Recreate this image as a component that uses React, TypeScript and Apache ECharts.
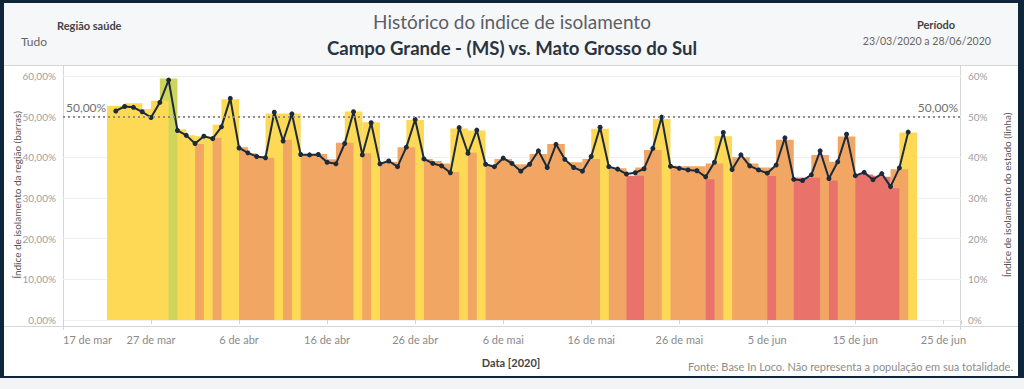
import React, { useEffect, useRef } from "react";
import * as echarts from "echarts";

// ---- data ----
const axisStartDate = "17/03";
const axisEndDate = "27/06";

const dates = [
  "23/03", "24/03", "25/03", "26/03", "27/03", "28/03", "29/03", "30/03", "31/03",
  "01/04", "02/04", "03/04", "04/04", "05/04", "06/04", "07/04", "08/04", "09/04", "10/04",
  "11/04", "12/04", "13/04", "14/04", "15/04", "16/04", "17/04", "18/04", "19/04", "20/04",
  "21/04", "22/04", "23/04", "24/04", "25/04", "26/04", "27/04", "28/04", "29/04", "30/04",
  "01/05", "02/05", "03/05", "04/05", "05/05", "06/05", "07/05", "08/05", "09/05", "10/05",
  "11/05", "12/05", "13/05", "14/05", "15/05", "16/05", "17/05", "18/05", "19/05", "20/05",
  "21/05", "22/05", "23/05", "24/05", "25/05", "26/05", "27/05", "28/05", "29/05", "30/05",
  "31/05", "01/06", "02/06", "03/06", "04/06", "05/06", "06/06", "07/06", "08/06", "09/06",
  "10/06", "11/06", "12/06", "13/06", "14/06", "15/06", "16/06", "17/06", "18/06", "19/06",
  "20/06", "21/06",
];

// Campo Grande (região) - barras
const regionValues = [
  52.6, 52.3, 53.3, 51.8, 51.8, 53.9, 59.4, 46.9, 45.4, 43.3,
  45.2, 44.8, 48.0, 54.3, 42.5, 41.0, 40.2, 39.9, 50.8, 44.3,
  50.8, 40.8, 40.6, 40.8, 39.5, 39.3, 43.6, 51.3, 41.0, 48.6,
  38.6, 38.9, 37.8, 42.5, 49.2, 39.6, 39.1, 38.5, 36.4, 47.1,
  41.1, 46.6, 38.1, 37.8, 39.6, 38.3, 37.5, 38.3, 40.8, 39.0,
  43.3, 38.5, 38.8, 37.5, 39.6, 47.0, 37.0, 37.3, 35.0, 35.5,
  37.5, 41.8, 49.4, 37.9, 37.8, 37.7, 37.8, 34.6, 38.5, 45.2,
  37.5, 40.0, 38.5, 37.5, 35.4, 37.5, 44.3, 35.0, 35.0, 35.0,
  40.6, 34.3, 38.9, 45.1, 35.8, 35.8, 35.5, 35.2, 32.4, 37.1,
  46.1,
];

// nível de cada barra: G verde, Y amarelo, O laranja, R vermelho
const regionLevels = [
  "Y", "Y", "Y", "Y", "Y", "Y", "G", "Y", "Y", "O",
  "Y", "O", "Y", "Y", "O", "O", "O", "O", "Y", "O",
  "Y", "O", "O", "O", "O", "O", "O", "Y", "O", "Y",
  "O", "O", "O", "O", "Y", "O", "O", "O", "O", "Y",
  "O", "Y", "O", "O", "O", "O", "O", "O", "O", "O",
  "O", "O", "O", "O", "O", "Y", "O", "O", "R", "R",
  "O", "O", "Y", "O", "O", "O", "O", "R", "O", "Y",
  "O", "O", "O", "O", "R", "O", "O", "R", "R", "R",
  "O", "R", "O", "O", "R", "R", "R", "R", "R", "O",
  "Y",
];

// Mato Grosso do Sul (estado) - linha
const stateValues = [
  51.4, 52.5, 52.3, 51.2, 49.8, 53.5, 59.0, 46.6, 45.4, 43.4,
  45.2, 44.6, 47.5, 54.5, 42.3, 41.1, 40.2, 39.9, 51.1, 44.0,
  50.7, 40.7, 40.6, 40.7, 38.8, 38.4, 43.4, 51.2, 40.6, 48.5,
  38.4, 39.1, 37.7, 42.5, 49.3, 39.6, 38.5, 37.9, 36.2, 47.3,
  41.0, 46.7, 38.3, 37.7, 39.8, 38.5, 36.6, 38.3, 41.6, 37.5,
  43.2, 39.5, 37.5, 36.6, 40.2, 47.4, 37.7, 37.1, 35.9, 36.2,
  37.2, 42.2, 49.9, 37.8, 37.3, 36.9, 36.7, 35.2, 38.8, 46.1,
  37.0, 40.6, 37.9, 36.9, 36.1, 38.1, 44.8, 34.6, 34.3, 35.7,
  41.6, 34.8, 38.9, 45.7, 35.5, 36.3, 34.5, 36.0, 32.8, 37.4,
  46.2,
];

const referenceValue = 50;
const referenceLabel = "50,00%";

const xTickLabels = [
  "17 de mar", "27 de mar", "6 de abr", "16 de abr", "26 de abr", "6 de mai",
  "16 de mai", "26 de mai", "5 de jun", "15 de jun", "25 de jun",
];
const yLeftTickLabels = ["0,00%", "10,00%", "20,00%", "30,00%", "40,00%", "50,00%", "60,00%"];
const yRightTickLabels = ["0%", "10%", "20%", "30%", "40%", "50%", "60%"];

// ---- styles ----
const levelColors: Record<string, string> = {
  G: "#CFD55B",
  Y: "#FED955",
  O: "#F2A664",
  R: "#E9736B",
};
const FONT = 'Lato, "Noto Sans", sans-serif';
const NAVY = "#0f2539";
const LINE_COLOR = "#1c2b3b";

const dayOf = (s: string) => {
  const [d, m] = s.split("/").map(Number);
  return (Date.UTC(2020, m - 1, d) - Date.UTC(2020, 2, 17)) / 86400000;
};

export default function App() {
  const ref = useRef<HTMLDivElement>(null);

  useEffect(() => {
    if (!ref.current) return;
    const chart = echarts.init(ref.current, undefined, { renderer: "svg" });

    const xMin = dayOf(axisStartDate);
    const xMax = dayOf(axisEndDate);
    const n = regionValues.length;

    const barData = dates.map((d, i) => ({
      value: [dayOf(d), regionValues[i]],
      itemStyle: { color: levelColors[regionLevels[i]] },
    }));
    const lineData = dates.map((d, i) => [dayOf(d), stateValues[i]]);

    const option: any = {
      animation: false,
      backgroundColor: "transparent",
      textStyle: { fontFamily: FONT },
      grid: { left: 63, right: 63, top: 76, bottom: 69, containLabel: false },
      xAxis: {
        type: "value",
        min: xMin,
        max: xMax,
        interval: 10,
        offset: 6,
        axisLine: { show: false },
        axisTick: { show: true, length: 4, lineStyle: { color: "#d0d0d0" } },
        splitLine: { show: false },
        axisLabel: {
          margin: 8,
          color: "#8a8a8a",
          fontSize: 11,
          fontFamily: FONT,
          alignMinLabel: "left",
          formatter: (v: number) => {
            const k = (v - xMin) / 10;
            return Number.isInteger(k) && xTickLabels[k] ? xTickLabels[k] : "";
          },
        },
      },
      yAxis: [
        {
          type: "value",
          min: 0,
          max: 60,
          interval: 10,
          axisLine: { show: false },
          axisTick: { show: false },
          splitLine: { show: true, lineStyle: { color: "#efefef", width: 1 } },
          axisLabel: {
            margin: 7,
            color: "#a0a0a0",
            fontSize: 10,
            fontFamily: FONT,
            formatter: (v: number) => yLeftTickLabels[Math.round(v / 10)] ?? "",
          },
        },
        {
          type: "value",
          min: 0,
          max: 60,
          interval: 10,
          position: "right",
          axisLine: { show: false },
          axisTick: { show: false },
          splitLine: { show: false },
          axisLabel: {
            margin: 7,
            color: "#a0a0a0",
            fontSize: 10,
            fontFamily: FONT,
            formatter: (v: number) => yRightTickLabels[Math.round(v / 10)] ?? "",
          },
        },
      ],
      graphic: [
        { type: "rect", z: -10, shape: { x: 0, y: 0, width: 1024, height: 389 }, style: { fill: "#f3f4f5" } },
        { type: "rect", z: -9, shape: { x: 0, y: 0, width: 1024, height: 378 }, style: { fill: NAVY } },
        { type: "rect", z: -8, shape: { x: 4, y: 3, width: 1014, height: 373 }, style: { fill: "#ffffff" } },
        { type: "rect", z: -7, shape: { x: 4, y: 3, width: 1014, height: 62 }, style: { fill: "#f6f7f9" } },
        { type: "line", z: -6, shape: { x1: 4, y1: 65.5, x2: 1018, y2: 65.5 }, style: { stroke: "#d6d6d6", lineWidth: 1 } },
        { type: "line", z: -6, shape: { x1: 63.5, y1: 66, x2: 63.5, y2: 330 }, style: { stroke: "#d6d6d6", lineWidth: 1 } },
        { type: "line", z: -6, shape: { x1: 960.5, y1: 66, x2: 960.5, y2: 330 }, style: { stroke: "#d6d6d6", lineWidth: 1 } },
        { type: "line", z: -6, shape: { x1: 4, y1: 326.5, x2: 1018, y2: 326.5 }, style: { stroke: "#d6d6d6", lineWidth: 1 } },
        {
          type: "text", x: 57, y: 25,
          style: { text: "Região saúde", fill: "#444", font: `bold 11px ${FONT}`, align: "left", verticalAlign: "middle" },
        },
        {
          type: "text", x: 21, y: 41,
          style: { text: "Tudo", fill: "#666", font: `12px ${FONT}`, align: "left", verticalAlign: "middle" },
        },
        {
          type: "text", x: 512, y: 21,
          style: { text: "Histórico do índice de isolamento", fill: "#5a5f66", font: `19px ${FONT}`, align: "center", verticalAlign: "middle" },
        },
        {
          type: "text", x: 512, y: 48,
          style: { text: "Campo Grande - (MS) vs. Mato Grosso do Sul", fill: "#2a3440", font: `bold 18.6px ${FONT}`, align: "center", verticalAlign: "middle" },
        },
        {
          type: "text", x: 936, y: 24,
          style: { text: "Período", fill: "#444", font: `bold 11px ${FONT}`, align: "center", verticalAlign: "middle" },
        },
        {
          type: "text", x: 991, y: 41,
          style: { text: "23/03/2020 a 28/06/2020", fill: "#666", font: `10.6px ${FONT}`, align: "right", verticalAlign: "middle" },
        },
        {
          type: "text", x: 17, y: 195, rotation: Math.PI / 2,
          style: { text: "Índice de isolamento da região (barras)", fill: "#555", font: `10px ${FONT}`, align: "center", verticalAlign: "middle" },
        },
        {
          type: "text", x: 1007, y: 195, rotation: Math.PI / 2,
          style: { text: "Índice de isolamento do estado (linha)", fill: "#555", font: `10px ${FONT}`, align: "center", verticalAlign: "middle" },
        },
        {
          type: "text", x: 511, y: 362,
          style: { text: "Data [2020]", fill: "#444", font: `bold 11px ${FONT}`, align: "center", verticalAlign: "middle" },
        },
        {
          type: "text", x: 1013, y: 366,
          style: { text: "Fonte: Base In Loco. Não representa a população em sua totalidade.", fill: "#8c8c8c", font: `11px ${FONT}`, align: "right", verticalAlign: "middle" },
        },
      ],
      series: [
        {
          type: "custom",
          name: "Região",
          yAxisIndex: 0,
          z: 2,
          encode: { x: 0, y: 1 },
          data: barData,
          renderItem: (params: any, api: any) => {
            const x = api.value(0) as number;
            const v = api.value(1) as number;
            const a = api.coord([x - 1, v]);
            const b = api.coord([x + 1, 0]);
            return {
              type: "rect",
              z2: n - params.dataIndex,
              shape: { x: a[0], y: a[1], width: b[0] - a[0], height: b[1] - a[1] },
              style: { fill: api.visual("color") },
            };
          },
        },
        {
          type: "line",
          name: "Estado",
          yAxisIndex: 1,
          z: 4,
          data: lineData,
          symbol: "circle",
          symbolSize: 5,
          showSymbol: true,
          itemStyle: { color: LINE_COLOR },
          lineStyle: { color: LINE_COLOR, width: 2 },
          markLine: {
            silent: true,
            symbol: "none",
            lineStyle: { color: "#8a8a8a", type: [2, 3], width: 1.5 },
            label: { color: "#707070", fontSize: 12, fontFamily: FONT, distance: [3, 3], formatter: referenceLabel },
            data: [
              { yAxis: referenceValue, label: { position: "insideStartTop" } },
              { yAxis: referenceValue, label: { position: "insideEndTop" } },
            ],
          },
        },
      ],
    };

    chart.setOption(option);
    return () => chart.dispose();
  }, []);

  return (
    <div
      ref={ref}
      style={{ position: "absolute", left: 0, top: 0, width: 1024, height: 389 }}
    />
  );
}
